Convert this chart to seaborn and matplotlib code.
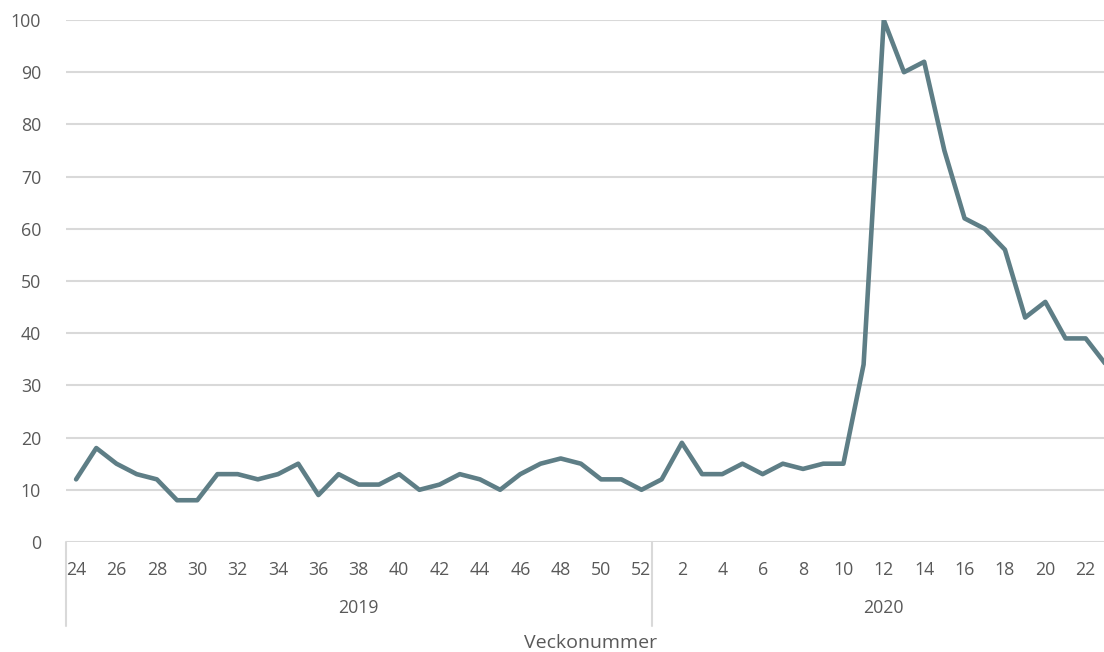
import pandas as pd
import matplotlib
matplotlib.use("Agg")
import matplotlib.pyplot as plt
import matplotlib.transforms as mtransforms
import seaborn as sns

# data
weeks_2019 = list(range(24, 53))
values_2019 = [12, 18, 15, 13, 12, 8, 8, 13, 13, 12, 13, 15, 9, 13, 11, 11, 13, 10, 11,
               13, 12, 10, 13, 15, 16, 15, 12, 12, 10]
weeks_2020 = list(range(1, 24))
values_2020 = [12, 19, 13, 13, 15, 13, 15, 14, 15, 15, 34, 100, 90, 92, 75, 62, 60, 56,
               43, 46, 39, 39, 34]
years = ["2019", "2020"]
y_ticks = [0, 10, 20, 30, 40, 50, 60, 70, 80, 90, 100]

df = pd.DataFrame({
    "week": weeks_2019 + weeks_2020,
    "year": [years[0]] * len(weeks_2019) + [years[1]] * len(weeks_2020),
    "value": values_2019 + values_2020,
})
df["pos"] = range(len(df))

sns.set_theme(style="white")
plt.rcParams["font.family"] = ["Open Sans", "DejaVu Sans"]
txt = "#595959"
grid = "#d9d9d9"

fig = plt.figure(figsize=(11.04, 6.52), dpi=100)
ax = fig.add_axes([66 / 1104, 1 - 542 / 652, 1050 / 1104, 522 / 652])

for y in y_ticks:
    ax.axhline(y, color=grid, lw=1.5, zorder=0)

sns.lineplot(data=df, x="pos", y="value", ax=ax, color="#5e7e86", lw=3.3,
             legend=False, zorder=3)

ax.set_ylim(0, 100)
ax.set_xlim(-0.5, len(df) - 0.5)
ax.set_yticks(y_ticks)
ax.tick_params(axis="y", length=0, pad=18, labelsize=12.8, labelcolor=txt)

# every other week labelled
tick_rows = df[df.index % 2 == 0]
ax.set_xticks(tick_rows["pos"])
ax.set_xticklabels(tick_rows["week"].astype(str))
ax.tick_params(axis="x", length=0, pad=14, labelsize=12.8, labelcolor=txt)
ax.set_xlabel("")
ax.set_ylabel("")
for s in ax.spines.values():
    s.set_visible(False)

# multi-level category axis: year dividers and labels
trans = mtransforms.blended_transform_factory(ax.transData, ax.transAxes)
bounds = [-0.5]
for yr in years:
    sub = df[df["year"] == yr]
    lo, hi = sub["pos"].min() - 0.5, sub["pos"].max() + 0.5
    bounds.append(hi)
    ax.text((lo + hi) / 2, -0.127, yr, transform=trans, ha="center", va="center",
            fontsize=12.8, color=txt)
for b in bounds:
    ax.plot([b, b], [0, -0.16], transform=trans, color=grid, lw=1.5, clip_on=False)

ax.text(0.5, -0.193, "Veckonummer", transform=ax.transAxes, ha="center", va="center",
        fontsize=14, color=txt)

fig.savefig("out.png", dpi=100)
